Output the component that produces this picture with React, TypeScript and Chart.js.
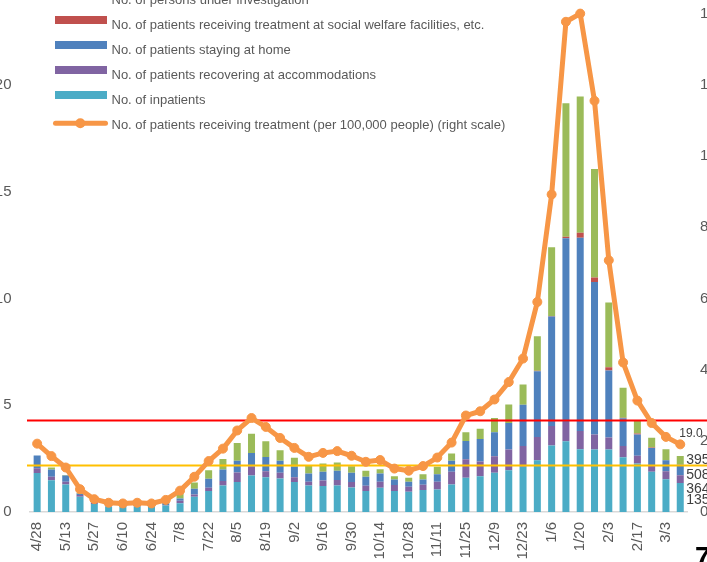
import React, { useEffect, useRef } from 'react';
import { Chart, registerables } from 'chart.js';

Chart.register(...registerables);

const categories = ['4/28','5/6','5/13','5/20','5/27','6/3','6/10','6/17','6/24','7/1','7/8','7/15','7/22','7/29','8/5','8/12','8/19','8/26','9/2','9/9','9/16','9/23','9/30','10/7','10/14','10/21','10/28','11/4','11/11','11/18','11/25','12/2','12/9','12/16','12/23','12/30','1/6','1/13','1/20','1/27','2/3','2/10','2/17','2/24','3/3','3/10'];

const inpatients = [1820,1492,1290,715,380,250,240,250,235,300,404,715,979,1244,1399,1710,1632,1570,1399,1244,1213,1244,1150,979,1135,979,948,1026,1057,1290,1601,1679,1834,1959,2114,2425,3109,3311,2938,2923,2923,2565,2270,1881,1539,1352];
const accommodations = [233,155,124,80,40,20,15,15,15,30,124,109,155,202,451,404,280,264,233,171,264,249,249,249,280,280,233,249,358,591,871,684,777,964,979,1088,917,902,855,700,560,529,358,280,373,364];
const stayingHome = [591,342,295,70,60,70,60,70,65,100,109,264,420,544,544,653,668,560,482,388,404,435,435,420,388,264,233,249,358,513,855,1057,1119,1244,1928,3078,5130,8600,9048,7150,3139,1290,995,839,513,508];
const socialWelfare = [0,0,0,0,0,0,0,0,0,0,0,0,0,0,0,0,0,0,0,0,0,0,0,0,0,0,0,0,0,0,0,0,0,0,0,20,23,75,233,200,154,30,47,20,0,0];
const underInvestigation = [0,93,20,20,20,15,15,20,20,40,233,295,404,497,839,902,730,497,420,388,388,388,311,280,202,155,187,249,342,342,404,482,668,871,948,1617,3218,6250,6375,5084,3032,1399,638,451,513,395];
const per100k = [19.2,15.7,12.5,6.4,3.6,2.6,2.4,2.6,2.4,3.4,6.0,9.9,14.3,17.8,22.9,26.4,23.9,20.8,18.0,15.5,16.6,17.1,15.8,14.1,14.6,12.2,11.6,12.9,15.3,19.5,27.1,28.3,31.6,36.5,43.1,59.0,89.2,137.7,140.0,115.5,70.7,42.0,31.3,25.0,21.1,19.0];

const thresholds = [
  { value: 25.8, color: '#FF0000' },
  { value: 13.1, color: '#FFC000' },
];

const FONT = "'Liberation Sans', Arial, sans-serif";
const OX = 40; // canvas offset (canvas is shifted left/up so the chart is cropped)
const OY = 60;
const CW = 800;
const CH = 680;

const overlayPlugin = {
  id: 'overlayPlugin',
  beforeDatasetDraw(chart: any, args: any) {
    if (args.index !== 5) return;
    const ctx = chart.ctx;
    const y1 = chart.scales.y1;
    ctx.save();
    thresholds.forEach((t) => {
      const y = Math.round(y1.getPixelForValue(t.value)) + 0.5;
      ctx.strokeStyle = t.color;
      ctx.lineWidth = 2;
      ctx.beginPath();
      ctx.moveTo(chart.chartArea.left - 3, y);
      ctx.lineTo(CW, y);
      ctx.stroke();
    });
    ctx.restore();
  },
  afterDatasetsDraw(chart: any) {
    const ctx = chart.ctx;
    const last = categories.length - 1;
    ctx.save();
    // line value label
    const lineMeta = chart.getDatasetMeta(5);
    const p = lineMeta.data[last];
    ctx.fillStyle = '#404040';
    ctx.font = `12px ${FONT}`;
    ctx.textAlign = 'left';
    ctx.textBaseline = 'middle';
    ctx.fillText(per100k[last].toFixed(1), p.x - 1, p.y - 11);
    // bar value labels (top-down, pushed apart)
    ctx.font = `14px ${FONT}`;
    const order = [4, 2, 1, 0];
    let prev = -Infinity;
    order.forEach((di, k) => {
      const el: any = chart.getDatasetMeta(di).data[last];
      const center = (el.y + el.base) / 2;
      const gap = k === 3 ? 11 : 14.5;
      const y = Math.max(center, prev + gap);
      prev = y;
      const v = chart.data.datasets[di].data[last];
      ctx.fillText(String(v), el.x + el.width / 2 + 2.5, y);
    });
    ctx.restore();
  },
  afterDraw(chart: any) {
    const ctx = chart.ctx;
    ctx.save();
    ctx.font = `13px ${FONT}`;
    ctx.textAlign = 'left';
    ctx.textBaseline = 'alphabetic';
    const rows = [4, 3, 2, 1, 0, 5];
    rows.forEach((di, i) => {
      const ds: any = chart.data.datasets[di];
      const base = OY + 4.3 + i * 25;
      if (ds.type === 'line') {
        const cy = base - 6;
        ctx.strokeStyle = ds.borderColor;
        ctx.lineWidth = 5;
        ctx.lineCap = 'round';
        ctx.beginPath();
        ctx.moveTo(OX + 55.5, cy);
        ctx.lineTo(OX + 105.5, cy);
        ctx.stroke();
        ctx.fillStyle = ds.borderColor;
        ctx.beginPath();
        ctx.arc(OX + 80.3, cy, 5, 0, Math.PI * 2);
        ctx.fill();
      } else {
        ctx.fillStyle = ds.backgroundColor;
        ctx.fillRect(OX + 55, base - 13.3, 52, 8);
      }
      ctx.fillStyle = '#595959';
      ctx.fillText(ds.label, OX + 111.5, base);
    });
    ctx.restore();
  },
};

export default function App() {
  const ref = useRef<HTMLCanvasElement>(null);

  useEffect(() => {
    const canvas = ref.current;
    if (!canvas) return;
    const barCommon = {
      type: 'bar' as const,
      yAxisID: 'y',
      stack: 's',
      order: 1,
      barPercentage: 0.49,
      categoryPercentage: 1.0,
      borderWidth: 0,
    };
    const chart = new Chart(canvas, {
      type: 'bar',
      data: {
        labels: categories,
        datasets: [
          { ...barCommon, label: 'No. of inpatients', data: inpatients, backgroundColor: '#4BACC6' },
          { ...barCommon, label: 'No. of patients recovering at accommodations', data: accommodations, backgroundColor: '#8064A2' },
          { ...barCommon, label: 'No. of patients staying at home', data: stayingHome, backgroundColor: '#4F81BD' },
          { ...barCommon, label: 'No. of patients receiving treatment at social welfare facilities, etc.', data: socialWelfare, backgroundColor: '#C0504D' },
          { ...barCommon, label: 'No. of persons under investigation', data: underInvestigation, backgroundColor: '#9BBB59' },
          {
            type: 'line',
            label: 'No. of patients receiving treatment (per 100,000 people) (right scale)',
            data: per100k,
            yAxisID: 'y1',
            order: 0,
            borderColor: '#F79646',
            backgroundColor: '#F79646',
            borderWidth: 5,
            borderJoinStyle: 'round',
            borderCapStyle: 'round',
            pointRadius: 4.5,
            pointBackgroundColor: '#F79646',
            pointBorderColor: '#F79646',
            pointBorderWidth: 1,
            tension: 0,
          } as any,
        ],
      },
      options: {
        responsive: false,
        animation: false,
        devicePixelRatio: 1,
        layout: { padding: { top: 38, left: 0, right: 0, bottom: 0 } },
        plugins: { legend: { display: false }, tooltip: { enabled: false } },
        scales: {
          x: {
            stacked: true,
            offset: true,
            grid: { display: false, drawTicks: false },
            border: { display: true, color: '#D9D9D9', width: 1.5 },
            ticks: {
              autoSkip: false,
              minRotation: 90,
              maxRotation: 90,
              padding: 10,
              color: '#595959',
              font: { family: FONT, size: 15 },
              callback: (_v: any, i: number) => (i % 2 === 0 ? categories[i] : ''),
            },
            afterFit: (s: any) => { s.height = CH - 572; },
          },
          y: {
            stacked: true,
            position: 'left',
            min: 0,
            max: 25000,
            grid: { display: false, drawTicks: false },
            border: { display: false },
            ticks: {
              stepSize: 5000,
              padding: 18.5,
              color: '#595959',
              font: { family: FONT, size: 15 },
              callback: (v: any) => String(Number(v) / 1000),
            },
            afterFit: (s: any) => { s.width = 70; },
          },
          y1: {
            position: 'right',
            min: 0,
            max: 150,
            grid: { display: false, drawTicks: false },
            border: { display: false },
            ticks: {
              stepSize: 20,
              padding: 12.6,
              color: '#595959',
              font: { family: FONT, size: 15 },
            },
            afterFit: (s: any) => { s.width = 72.6; },
          },
        },
      },
      plugins: [overlayPlugin],
    });
    return () => chart.destroy();
  }, []);

  return (
    <div style={{ position: 'fixed', left: 0, top: 0, width: 707, height: 562, overflow: 'hidden', background: '#fff' }}>
      <canvas
        ref={ref}
        width={CW}
        height={CH}
        style={{ position: 'absolute', left: -OX, top: -OY, width: CW, height: CH }}
      />
      <div
        style={{
          position: 'absolute',
          left: 695,
          top: 543,
          fontFamily: FONT,
          fontWeight: 'bold',
          fontSize: 28,
          lineHeight: '28px',
          color: '#000',
        }}
      >
        7
      </div>
    </div>
  );
}
